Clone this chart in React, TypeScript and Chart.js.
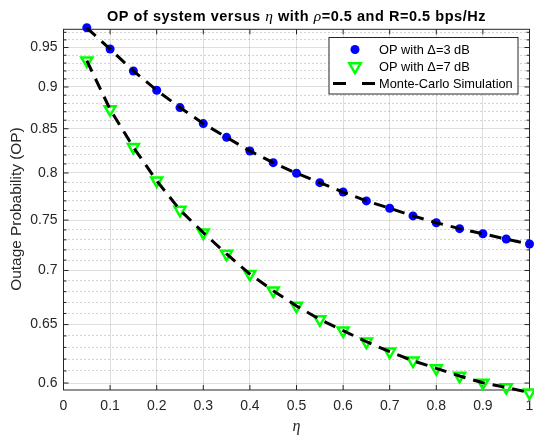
import React, { useEffect, useRef } from "react";
import { Chart, registerables } from "chart.js";

Chart.register(...registerables);

// ---------------- data ----------------
const eta = [0.05, 0.1, 0.15, 0.2, 0.25, 0.3, 0.35, 0.4, 0.45, 0.5, 0.55, 0.6, 0.65, 0.7, 0.75, 0.8, 0.85, 0.9, 0.95, 1.0];
const opDelta3 = [0.976, 0.948, 0.92, 0.896, 0.875, 0.856, 0.84, 0.8245, 0.8114, 0.7997, 0.7895, 0.7794, 0.77, 0.7623, 0.7543, 0.7473, 0.7413, 0.7361, 0.7308, 0.7258];
const opDelta7 = [0.933, 0.8729, 0.8287, 0.7916, 0.7605, 0.7372, 0.716, 0.6966, 0.6809, 0.6668, 0.6547, 0.6446, 0.6349, 0.6263, 0.6186, 0.6122, 0.6058, 0.6002, 0.5965, 0.5921];
const mcDelta3 = [0.976, 0.948, 0.92, 0.896, 0.875, 0.856, 0.84, 0.8245, 0.8114, 0.7997, 0.7895, 0.7794, 0.77, 0.7623, 0.7543, 0.7473, 0.7413, 0.7361, 0.7308, 0.7258];
const mcDelta7 = [0.933, 0.8729, 0.8287, 0.7916, 0.7605, 0.7372, 0.716, 0.6966, 0.6809, 0.6668, 0.6547, 0.6446, 0.6349, 0.6263, 0.6186, 0.6122, 0.6058, 0.6002, 0.5965, 0.5921];
const xTicks = [0, 0.1, 0.2, 0.3, 0.4, 0.5, 0.6, 0.7, 0.8, 0.9, 1];
const yMajorTicks = [0.6, 0.65, 0.7, 0.75, 0.8, 0.85, 0.9, 0.95];
const yMinorTicks = [0.6, 0.61, 0.62, 0.63, 0.64, 0.65, 0.66, 0.67, 0.68, 0.69, 0.7, 0.71, 0.72, 0.73, 0.74, 0.75, 0.76, 0.77, 0.78, 0.79, 0.8, 0.81, 0.82, 0.83, 0.84, 0.85, 0.86, 0.87, 0.88, 0.89, 0.9, 0.91, 0.92, 0.93, 0.94, 0.95, 0.96, 0.97];
const yMin = 0.5943;
const yMax = 0.974;
const legendLabels = ["OP with \u0394=3 dB", "OP with \u0394=7 dB", "Monte-Carlo Simulation"];
const titleParts: [string, boolean][] = [
  ["OP of system versus ", false],
  ["\u03b7", true],
  [" with ", false],
  ["\u03c1", true],
  ["=0.5 and R=0.5 bps/Hz", false],
];
const xTitle = "\u03b7";
const yTitle = "Outage Probability (OP)";

// ---------------- style ----------------
const AX = "#262626";
const SANS = '"Liberation Sans", Arial, sans-serif';
const SERIF = '"Liberation Serif", "Times New Roman", serif';
const BLUE = "#0000ff";
const GREEN = "#00ff00";
const DASH = [12, 8];

const isMajor = (v: number) => yMajorTicks.some((m) => Math.abs(m - v) < 1e-6);

const drawTriangleDown = (ctx: CanvasRenderingContext2D, x: number, y: number, r: number) => {
  ctx.beginPath();
  for (let k = 0; k < 3; k++) {
    const a = Math.PI + k * (2 * Math.PI / 3);
    const px = x + Math.sin(a) * r;
    const py = y - Math.cos(a) * r;
    if (k === 0) ctx.moveTo(px, py);
    else ctx.lineTo(px, py);
  }
  ctx.closePath();
};

const decorPlugin = {
  id: "matlabDecor",
  beforeDatasetsDraw(chart: any) {
    const { ctx, chartArea: a, scales } = chart;
    ctx.save();
    ctx.strokeStyle = AX;
    ctx.lineWidth = 1;
    ctx.setLineDash([]);
    ctx.strokeRect(a.left, a.top, a.right - a.left, a.bottom - a.top);
    ctx.beginPath();
    for (const v of xTicks) {
      const x = scales.x.getPixelForValue(v);
      ctx.moveTo(x, a.bottom);
      ctx.lineTo(x, a.bottom - 5);
      ctx.moveTo(x, a.top);
      ctx.lineTo(x, a.top + 5);
    }
    for (const v of yMinorTicks) {
      const y = scales.y.getPixelForValue(v);
      const len = isMajor(v) ? 5 : 3;
      ctx.moveTo(a.left, y);
      ctx.lineTo(a.left + len, y);
      ctx.moveTo(a.right, y);
      ctx.lineTo(a.right - len, y);
    }
    ctx.stroke();
    ctx.restore();
  },
  afterDraw(chart: any) {
    const { ctx, chartArea: a } = chart;
    ctx.save();
    const tSize = 14.5;
    let total = 0;
    for (const [s, it] of titleParts) {
      ctx.font = it ? `italic ${tSize + 1}px ${SERIF}` : `bold ${tSize}px ${SANS}`;
      total += ctx.measureText(s).width;
    }
    const target = 379;
    const nChars = titleParts.reduce((n, p) => n + p[0].length, 0);
    const extra = (target - total) / nChars;
    let x = (a.left + a.right) / 2 - target / 2;
    ctx.fillStyle = "#000";
    ctx.textBaseline = "alphabetic";
    ctx.textAlign = "left";
    titleParts.forEach(([s, it]) => {
      ctx.font = it ? `italic ${tSize + 1}px ${SERIF}` : `bold ${tSize}px ${SANS}`;
      for (const ch of s) {
        ctx.fillText(ch, x, 20.8);
        x += ctx.measureText(ch).width + extra;
      }
    });

    ctx.fillStyle = AX;
    ctx.font = `italic 16px ${SERIF}`;
    ctx.textAlign = "center";
    ctx.textBaseline = "middle";
    ctx.fillText(xTitle, (a.left + a.right) / 2, 427);

    ctx.save();
    ctx.translate(16.5, 209);
    ctx.rotate(-Math.PI / 2);
    ctx.font = `15.4px ${SANS}`;
    ctx.fillText(yTitle, 0, 0);
    ctx.restore();

    const lx = 329, ly = 37.5, lw = 189, lh = 56.5;
    ctx.fillStyle = "#ffffff";
    ctx.fillRect(lx, ly, lw, lh);
    ctx.strokeStyle = AX;
    ctx.lineWidth = 1;
    ctx.strokeRect(lx, ly, lw, lh);
    const rows = [49.5, 66.5, 83.5];
    ctx.font = `12.8px ${SANS}`;
    ctx.fillStyle = "#000";
    ctx.textAlign = "left";
    ctx.textBaseline = "middle";
    legendLabels.forEach((s, i) => ctx.fillText(s, 379, rows[i] + 0.5));
    ctx.fillStyle = BLUE;
    ctx.beginPath();
    ctx.arc(355, rows[0], 4.5, 0, Math.PI * 2);
    ctx.fill();
    ctx.strokeStyle = GREEN;
    ctx.lineWidth = 2.5;
    drawTriangleDown(ctx, 355, rows[1], 6.5);
    ctx.stroke();
    ctx.strokeStyle = "#000";
    ctx.lineWidth = 3;
    ctx.beginPath();
    ctx.moveTo(333, rows[2]);
    ctx.lineTo(346, rows[2]);
    ctx.moveTo(362, rows[2]);
    ctx.lineTo(375, rows[2]);
    ctx.stroke();
    ctx.restore();
  },
};

export default function App() {
  const ref = useRef<HTMLCanvasElement | null>(null);

  useEffect(() => {
    if (!ref.current) return;
    const pts = (ys: number[]) => eta.map((x, i) => ({ x, y: ys[i] }));
    const chart = new Chart(ref.current, {
      type: "scatter",
      data: {
        datasets: [
          {
            label: legendLabels[2],
            data: pts(mcDelta3),
            showLine: true,
            borderColor: "#000",
            borderWidth: 3,
            borderDash: DASH,
            pointRadius: 0,
            order: 1,
            clip: false,
          } as any,
          {
            label: legendLabels[2] + " 2",
            data: pts(mcDelta7),
            showLine: true,
            borderColor: "#000",
            borderWidth: 3,
            borderDash: DASH,
            pointRadius: 0,
            order: 1,
            clip: false,
          } as any,
          {
            label: legendLabels[0],
            data: pts(opDelta3),
            showLine: false,
            pointStyle: "circle",
            pointRadius: 4.5,
            pointBackgroundColor: BLUE,
            pointBorderColor: BLUE,
            pointBorderWidth: 0,
            order: 2,
            clip: false,
          } as any,
          {
            label: legendLabels[1],
            data: pts(opDelta7),
            showLine: false,
            pointStyle: "triangle",
            rotation: 180,
            pointRadius: 6.3,
            pointBackgroundColor: "rgba(0,0,0,0)",
            pointBorderColor: GREEN,
            pointBorderWidth: 2.5,
            order: 2,
            clip: false,
          } as any,
        ],
      },
      options: {
        animation: false,
        responsive: false,
        devicePixelRatio: 1,
        events: [],
        layout: { autoPadding: false, padding: { top: 29.3, right: 4.5, left: 0, bottom: 0 } },
        plugins: {
          legend: { display: false },
          title: { display: false },
          tooltip: { enabled: false },
        },
        scales: {
          x: {
            type: "linear",
            min: 0,
            max: 1,
            afterBuildTicks: (s: any) => {
              s.ticks = xTicks.map((v) => ({ value: v }));
            },
            afterFit: (s: any) => {
              s.height = 47;
              s.paddingLeft = 0;
              s.paddingRight = 0;
            },
            ticks: {
              autoSkip: false,
              maxRotation: 0,
              padding: 8,
              color: AX,
              font: { family: SANS, size: 14 },
              callback: (v: any) => String(Math.round(Number(v) * 10) / 10),
            },
            grid: { color: "rgba(38,38,38,0.15)", drawTicks: false, lineWidth: 1 },
            border: { display: false },
          },
          y: {
            type: "logarithmic",
            min: yMin,
            max: yMax,
            bounds: "data",
            afterBuildTicks: (s: any) => {
              s.ticks = yMinorTicks.map((v) => ({ value: v }));
              s.min = yMin;
              s.max = yMax;
            },
            afterFit: (s: any) => {
              s.width = 63.5;
              s.paddingTop = 0;
              s.paddingBottom = 0;
            },
            ticks: {
              autoSkip: false,
              padding: 6,
              color: AX,
              font: { family: SANS, size: 14 },
              callback: (v: any) => (isMajor(Number(v)) ? String(Math.round(Number(v) * 100) / 100) : ""),
            },
            grid: {
              drawTicks: false,
              lineWidth: 1,
              color: (c: any) => (c.tick && isMajor(c.tick.value) ? "rgba(38,38,38,0.15)" : "rgba(38,38,38,0.2)"),
            },
            border: {
              display: false,
              dash: (c: any) => (c.tick && !isMajor(c.tick.value) ? [2, 2] : []),
            },
          },
        },
      } as any,
      plugins: [decorPlugin],
    });
    return () => chart.destroy();
  }, []);

  return (
    <div style={{ position: "absolute", left: 0, top: 0, width: 534, height: 437, background: "#fff" }}>
      <canvas ref={ref} width={534} height={437} style={{ display: "block" }} />
    </div>
  );
}
